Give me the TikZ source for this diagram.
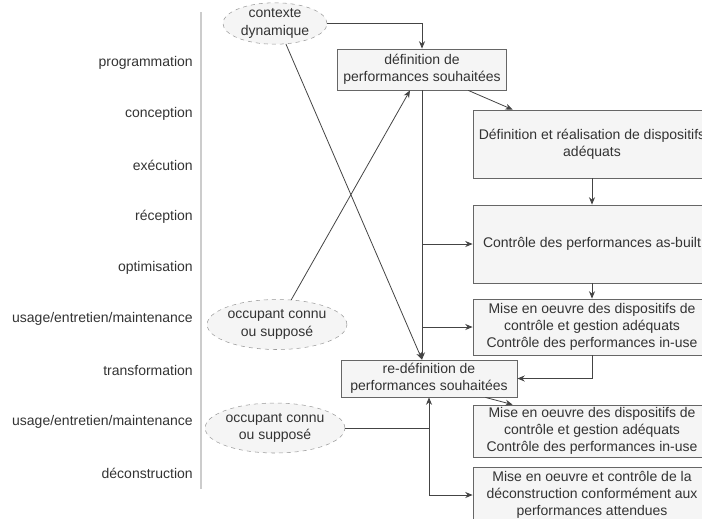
\documentclass[tikz,border=0pt]{standalone}
\usepackage{fontspec}
\setmainfont{Liberation Sans}
\usetikzlibrary{arrows.meta,shapes.geometric}
\definecolor{Ink}{HTML}{333333}
\definecolor{LineGray}{HTML}{444444}
\definecolor{BoxEdge}{HTML}{666666}
\definecolor{BoxFill}{HTML}{F5F5F5}
\definecolor{DashEdge}{HTML}{999999}
\definecolor{AxisGray}{HTML}{CCCCCC}
\tikzset{
  phaseLabel/.style={anchor=east,text=Ink,font=\fontsize{10.5}{13}\selectfont,inner sep=0pt},
  contextEllipse/.style={ellipse,draw=DashEdge,dashed,fill=BoxFill,text=Ink,
    font=\fontsize{10.5}{13}\selectfont,align=center,inner sep=0pt},
  perfBox/.style={rectangle,draw=BoxEdge,line width=0.6pt,fill=BoxFill,text=Ink,
    font=\fontsize{10.5}{13}\selectfont,align=center,inner sep=0pt,minimum width=178.5pt},
  flow/.style={-{Stealth[length=5.5pt,width=4.5pt]},draw=LineGray,line width=0.6pt},
  link/.style={draw=LineGray,line width=0.6pt}
}
\begin{document}
\begin{tikzpicture}[x=0.75pt,y=-0.75pt]
  \useasboundingbox (0,0) rectangle (702,518);
  % life-cycle phases on the left
  \foreach \phase [count=\i from 0] in {programmation,conception,exécution,réception,optimisation,{usage/entretien/maintenance},transformation,{usage/entretien/maintenance},déconstruction}
    \node[phaseLabel] (ph\i) at (193,{63+51.25*\i}) {\phase};
  \draw[AxisGray,line width=1pt] (201,12) -- (201,489);
  % context ellipses
  \node[contextEllipse,minimum width=78pt,minimum height=29.25pt] (ctxDyn) at (275,23.5) {contexte\\dynamique};
  \node[contextEllipse,minimum width=100.5pt,minimum height=37.5pt] (occA) at (277,324.5) {occupant connu\\ou supposé};
  \node[contextEllipse,minimum width=100.5pt,minimum height=37.5pt] (occB) at (275,428) {occupant connu\\ou supposé};
  % performance boxes
  \node[perfBox,minimum width=126.75pt,minimum height=30.75pt] (defPerf) at (422,69.5) {définition de\\performances souhaitées};
  \node[perfBox,minimum height=51pt] (defDisp) at (592,144) {Définition et réalisation de dispositifs\\adéquats};
  \node[perfBox,minimum height=58.5pt] (ctrlBuilt) at (592,244) {Contrôle des performances as-built};
  \node[perfBox,minimum height=42pt] (useA) at (592,327) {Mise en oeuvre des dispositifs de\\contrôle et gestion adéquats\\Contrôle des performances in-use};
  \node[perfBox,minimum width=132pt,minimum height=27.75pt] (redefPerf) at (429,378.5) {re-définition de\\performances souhaitées};
  \node[perfBox,minimum height=39pt] (useB) at (592,431) {Mise en oeuvre des dispositifs de\\contrôle et gestion adéquats\\Contrôle des performances in-use};
  \node[perfBox,minimum height=42pt] (deconstr) at (592,495) {Mise en oeuvre et contrôle de la\\déconstruction conformément aux\\performances attendues};
  \coordinate (redefIn) at (defPerf.south |- redefPerf.north);
  \coordinate (occJoin) at (redefPerf.south |- occB.east);
  % connectors
  \draw[flow] (ctxDyn.east) -| (defPerf.north);
  \draw[flow] (ctxDyn.-62) -- (redefIn);
  \draw[flow] (occA.60) -- ([xshift=-9pt]defPerf.south);
  \draw[flow] ([xshift=-29pt]defPerf.south east) -- ([xshift=30pt]defDisp.north west);
  \draw[flow] (defDisp.south) -- (ctrlBuilt.north);
  \draw[flow] (ctrlBuilt.south) -- (useA.north);
  \draw[flow] (defPerf.south) -- (redefIn);
  \draw[flow] (defPerf.south |- ctrlBuilt.west) -- (ctrlBuilt.west);
  \draw[flow] (defPerf.south |- useA.west) -- (useA.west);
  \draw[flow] (useA.south) |- (redefPerf.east);
  \draw[flow] ([xshift=-24pt]redefPerf.south east) -- ([xshift=30pt]useB.north west);
  \draw[link] (occB.east) -- (occJoin);
  \draw[flow] (occJoin) -- (redefPerf.south);
  \draw[flow] (occJoin) |- (deconstr.west);
\end{tikzpicture}
\end{document}
